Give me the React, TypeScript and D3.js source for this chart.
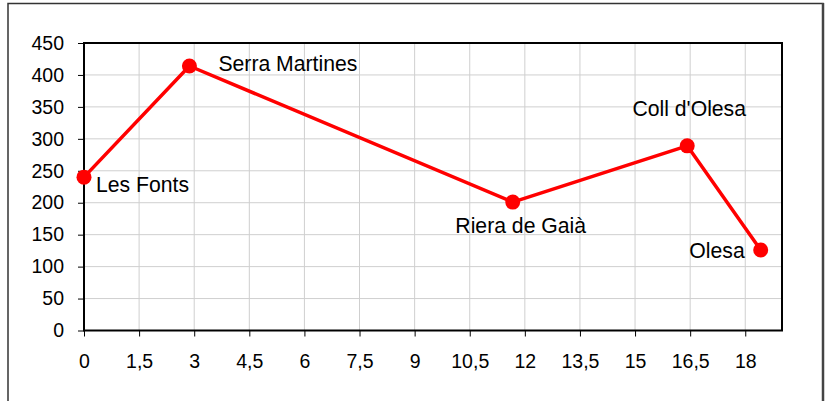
import { axisBottom, axisLeft, line, range, scaleLinear, select } from 'd3'
import { useEffect, useRef } from 'react'

// distance (km) and altitude (m) of each place along the route
const places = ['Les Fonts', 'Serra Martines', 'Riera de Gaià', "Coll d'Olesa", 'Olesa']
const distance = [0, 2.87, 11.67, 16.42, 18.42]
const altitude = [240, 414, 201, 289, 126]

const xTicks = range(0, 18.01, 1.5)
const yTicks = range(0, 451, 50)

// where each place name sits relative to its point
const labelPlacement = [
    { dx: 12, dy: 15, anchor: 'start' },
    { dx: 29, dy: 5, anchor: 'start' },
    { dx: 8, dy: 31, anchor: 'middle' },
    { dx: 2, dy: -30, anchor: 'middle' },
    { dx: -16, dy: 8, anchor: 'end' }
]

const width = 826
const height = 401
const margin = { top: 43, right: 44, bottom: 70.5, left: 84 }
const font = '"Liberation Sans", Arial, sans-serif'

export default function App() {
    const ref = useRef(null)

    useEffect(() => {
        const svg = select(ref.current)
        svg.selectAll('*').remove()

        const x = scaleLinear()
            .domain([0, 19])
            .range([margin.left, width - margin.right])

        const y = scaleLinear()
            .domain([0, 450])
            .range([height - margin.bottom, margin.top])

        // outer frame
        svg.append('rect')
            .attr('x', 8)
            .attr('y', 3.5)
            .attr('width', 815)
            .attr('height', 420)
            .attr('fill', 'white')
            .attr('stroke', '#333')
            .attr('stroke-width', 1.5)
        svg.append('line')
            .attr('x1', 823).attr('x2', 823)
            .attr('y1', 3).attr('y2', height)
            .attr('stroke', '#444')
            .attr('stroke-width', 2.5)

        // grid
        svg.append('g')
            .selectAll('line')
            .data(xTicks.slice(1))
            .join('line')
            .attr('x1', d => x(d)).attr('x2', d => x(d))
            .attr('y1', y(450)).attr('y2', y(0))
            .attr('stroke', '#cfcfcf')
            .attr('stroke-width', 1)
        svg.append('g')
            .selectAll('line')
            .data(yTicks.slice(1))
            .join('line')
            .attr('x1', x(0)).attr('x2', x(19))
            .attr('y1', d => y(d)).attr('y2', d => y(d))
            .attr('stroke', '#cfcfcf')
            .attr('stroke-width', 1)

        svg.append('rect')
            .attr('x', x(0))
            .attr('y', y(450))
            .attr('width', x(19) - x(0))
            .attr('height', y(0) - y(450))
            .attr('fill', 'none')
            .attr('stroke', '#000')
            .attr('stroke-width', 2)

        svg.append('g')
            .attr('transform', `translate(0,${y(0)})`)
            .call(axisBottom(x).tickValues(xTicks).tickSize(6).tickPadding(18)
                .tickFormat(d => String(d).replace('.', ',')))
            .call(g => g.select('.domain').remove())
            .call(g => g.selectAll('.tick line').attr('stroke', '#000'))
            .call(g => g.selectAll('text')
                .attr('font-family', font)
                .attr('font-size', 19.5)
                .attr('fill', '#000'))

        svg.append('g')
            .attr('transform', `translate(${x(0)},0)`)
            .call(axisLeft(y).tickValues(yTicks).tickSize(6).tickPadding(14))
            .call(g => g.select('.domain').remove())
            .call(g => g.selectAll('.tick line').attr('stroke', '#000'))
            .call(g => g.selectAll('text')
                .attr('font-family', font)
                .attr('font-size', 19.5)
                .attr('fill', '#000'))

        const points = places.map((name, i) => ({ name, km: distance[i], alt: altitude[i], ...labelPlacement[i] }))

        svg.append('path')
            .datum(points)
            .attr('fill', 'none')
            .attr('stroke', '#ff0000')
            .attr('stroke-width', 3.5)
            .attr('stroke-linejoin', 'round')
            .attr('d', line<any>().x(d => x(d.km)).y(d => y(d.alt)))

        svg.append('g')
            .selectAll('circle')
            .data(points)
            .join('circle')
            .attr('cx', d => x(d.km))
            .attr('cy', d => y(d.alt))
            .attr('r', 7.5)
            .attr('fill', '#ff0000')

        svg.append('g')
            .selectAll('text')
            .data(points)
            .join('text')
            .attr('x', d => x(d.km) + d.dx)
            .attr('y', d => y(d.alt) + d.dy)
            .attr('text-anchor', d => d.anchor)
            .attr('font-family', font)
            .attr('font-size', 21.2)
            .attr('fill', '#000')
            .text(d => d.name)
    }, [])

    return (
        <svg
            ref={ref}
            width={width}
            height={height}
            style={{ position: 'absolute', left: 0, top: 0, display: 'block', background: 'white' }}
        />
    )
}
